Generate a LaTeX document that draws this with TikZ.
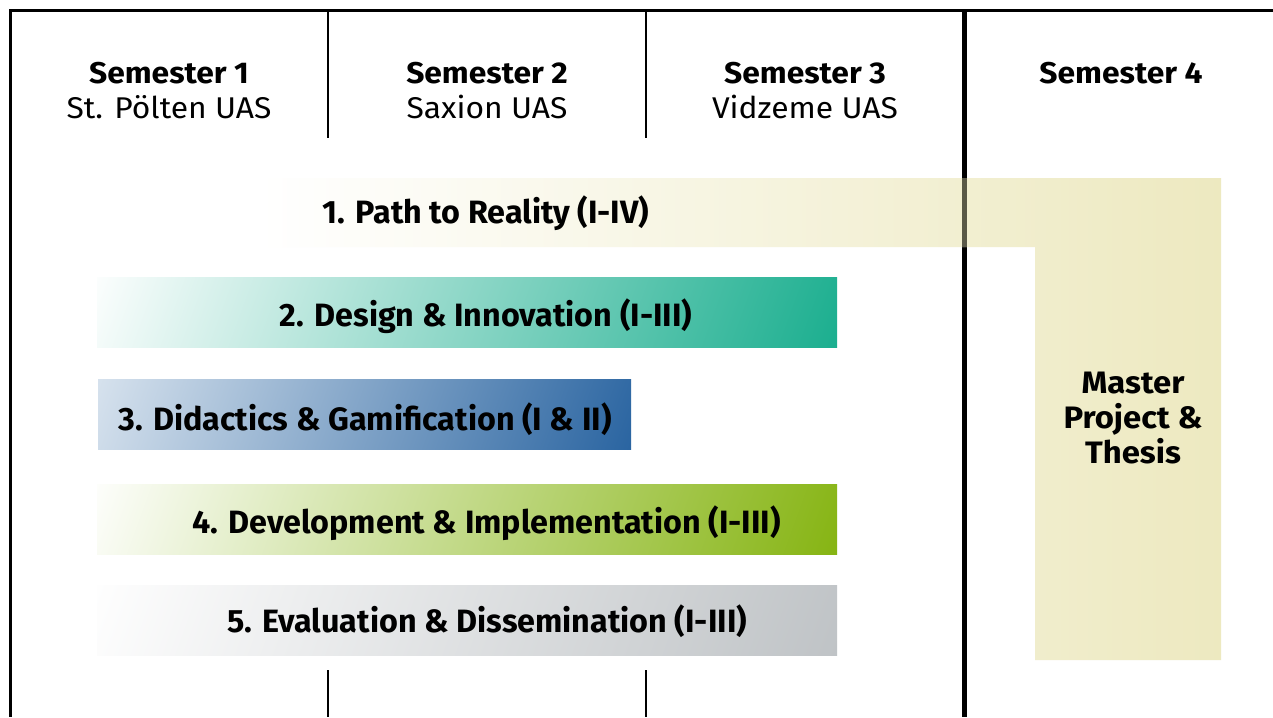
\documentclass[tikz,border=0pt]{standalone}
\usepackage{fontspec}
\setmainfont{Fira Sans}
\newfontfamily\headfont{Fira Sans}[FakeStretch=1.06]
\definecolor{tealend}{HTML}{17AD8D}
\definecolor{bluestart}{HTML}{D8E3EE}
\definecolor{blueend}{HTML}{2863A0}
\definecolor{greenend}{HTML}{84B30F}
\definecolor{grayend}{HTML}{BEC2C5}
\definecolor{yellowend}{HTML}{EDE9C0}
\definecolor{lineinbar}{HTML}{5A5948}
\newcommand\gradbar[6]{%
  \begin{scope}
    \clip (#1,#2) rectangle (#3,#4);
    \pgfmathsetmacro\gcx{(#1+#3)/2}
    \pgfmathsetmacro\gcy{(#2+#4)/2}
    \pgfmathsetmacro\ghalf{max(abs(#3-#1)/2+3, abs(#3-#1)/2*sin(70)+abs(#4-#2)/2*cos(70))}
    \shade[top color=#5, bottom color=#6, shading angle=70]
      (\gcx-\ghalf,\gcy-\ghalf) rectangle (\gcx+\ghalf,\gcy+\ghalf);
  \end{scope}}
\begin{document}
\begin{tikzpicture}[x=1pt,y=-1pt,
  frameline/.style={line width=2.7pt, black},
  divline/.style={line width=2.7pt, black},
  maindiv/.style={line width=4.5pt, black},
  head/.style={font=\headfont\fontsize{30}{35}\selectfont\bfseries, anchor=base, inner sep=0pt},
  uni/.style={font=\headfont\fontsize{30}{35}\selectfont, anchor=base, inner sep=0pt},
  bartext/.style={font=\fontsize{32.3}{38}\selectfont\bfseries, anchor=base, inner sep=0pt},
  thesis/.style={font=\headfont\fontsize{31}{35}\selectfont\bfseries, align=center, inner sep=0pt},
]
\useasboundingbox (0,0) rectangle (1273,717);
\fill[white] (0,0) rectangle (1273,717);

% frame and dividers
\coordinate (tl) at (9.35,10.7);
\coordinate (tr) at (1273,10.7);
\coordinate (bl) at (10.7,717);
\coordinate (lt) at (10.7,9.35);
\draw[frameline] (tl) -- (tr);
\draw[frameline] (lt) -- (bl);
\coordinate (d1t) at (328,10.7);  \coordinate (d1b) at (328,138);
\coordinate (d2t) at (646,10.7);  \coordinate (d2b) at (646,138);
\coordinate (d1u) at (328,670);   \coordinate (d1e) at (328,717);
\coordinate (d2u) at (646,670);   \coordinate (d2e) at (646,717);
\draw[divline] (d1t) -- (d1b);
\draw[divline] (d2t) -- (d2b);
\draw[divline] (d1u) -- (d1e);
\draw[divline] (d2u) -- (d2e);
\coordinate (mt) at (964.5,10.7);
\coordinate (mb) at (964.5,717);
\draw[maindiv] (mt) -- (mb);

% headers
\node[head] (s1) at (169,83) {Semester 1};
\node[uni]  (u1) at (169,118) {St. Pölten UAS};
\node[head] (s2) at (487,83) {Semester 2};
\node[uni]  (u2) at (487,118) {Saxion UAS};
\node[head] (s3) at (805,83) {Semester 3};
\node[uni]  (u3) at (805,118) {Vidzeme UAS};
\node[head] (s4) at (1121,83) {Semester 4};

% L-shaped bar 1
\begin{scope}
  \clip (97,178) -- (1221,178) -- (1221,660) -- (1035,660) -- (1035,247) -- (97,247) -- cycle;
  \shade[left color=white, right color=yellowend] (260,178) rectangle (1221,660);
\end{scope}
\coordinate (lb1) at (964.5,178);
\coordinate (lb2) at (964.5,247);
\draw[maindiv, lineinbar] (lb1) -- (lb2);

% bars 2-5
\gradbar{97}{277}{837}{347}{white}{tealend}
\gradbar{98}{379}{631}{449}{bluestart}{blueend}
\gradbar{97}{484}{837}{554}{white}{greenend}
\gradbar{97}{585}{837}{655}{white}{grayend}

% bar texts
\node[bartext] (b1) at (486,223) {1. Path to Reality (I-IV)};
\node[bartext] (b2) at (486,326) {2. Design \& Innovation (I-III)};
\node[bartext] (b3) at (365,430) {3. Didactics \& Gamification (I \& II)};
\node[bartext] (b4) at (486.5,533) {4. Development \& Implementation (I-III)};
\node[bartext] (b5) at (487,632) {5. Evaluation \& Dissemination (I-III)};
\node[thesis] (mp) at (1133,418) {Master\\Project \&\\Thesis};
\end{tikzpicture}
\end{document}
